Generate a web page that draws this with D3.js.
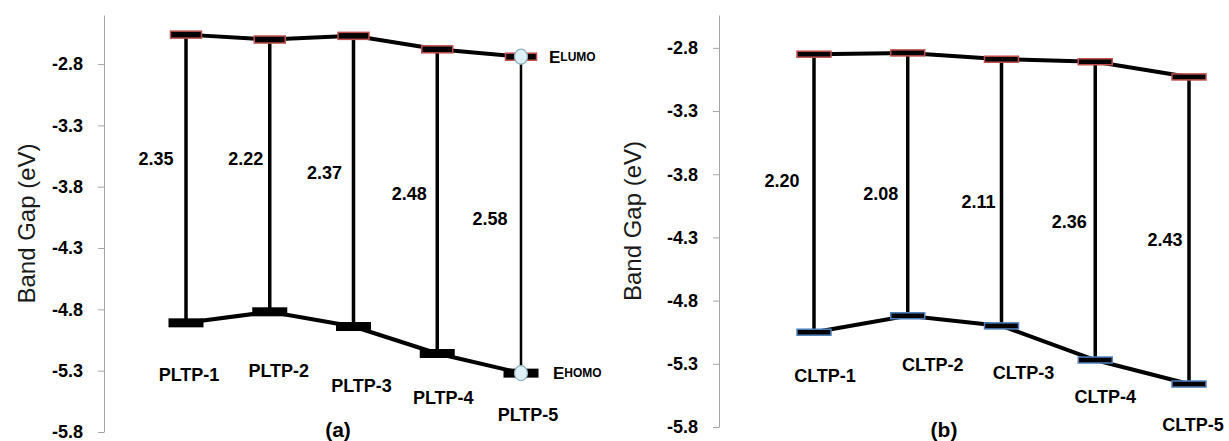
<!DOCTYPE html>
<html>
<head>
<meta charset="utf-8">
<script src="https://cdn.jsdelivr.net/npm/d3@7"></script>
<style>
  body { margin: 0; background: #fff; }
  svg { display: block; font-family: "Liberation Sans", Arial, sans-serif; }
</style>
</head>
<body>
<svg id="chart" width="1229" height="441"></svg>
<script>
// data (eV)
const pltpNames = ["PLTP-1", "PLTP-2", "PLTP-3", "PLTP-4", "PLTP-5"];
const pltpLumo = [-2.56, -2.60, -2.57, -2.68, -2.74];
const pltpHomo = [-4.91, -4.82, -4.94, -5.16, -5.32];
const pltpGap = ["2.35", "2.22", "2.37", "2.48", "2.58"];

const cltpNames = ["CLTP-1", "CLTP-2", "CLTP-3", "CLTP-4", "CLTP-5"];
const cltpLumo = [-2.85, -2.84, -2.89, -2.91, -3.03];
const cltpHomo = [-5.05, -4.92, -5.00, -5.27, -5.46];
const cltpGap = ["2.20", "2.08", "2.11", "2.36", "2.43"];

const yTicks = [-2.8, -3.3, -3.8, -4.3, -4.8, -5.3, -5.8];

const svg = d3.select("#chart");

// layout for each panel (label nudges are hand placed like in the original)
const panels = [
  {
    names: pltpNames, lumo: pltpLumo, homo: pltpHomo, gap: pltpGap, tag: "(a)",
    axisX: 104, yDomain: [-2.4, -5.8], yRange: [15, 432], xRange: [186, 521],
    titleX: 26, tagX: 338,
    homoW: 35, homoH: 9, homoStroke: null, lumoW: 31, lumoH: 7,
    catDx: [3, 9, 8, 6, 7], catDy: [52, 59, 59, 44, 42],
    gapDx: [-30, -24, -29, -28, -31], gapDy: [-20, -17, -8, -7, 4],
    circles: true
  },
  {
    names: cltpNames, lumo: cltpLumo, homo: cltpHomo, gap: cltpGap, tag: "(b)",
    axisX: 719, yDomain: [-2.54, -5.8], yRange: [15, 427], xRange: [814, 1189],
    titleX: 632, tagX: 944,
    homoW: 34, homoH: 6, homoStroke: "#4f81bd", lumoW: 34, lumoH: 6,
    catDx: [11, 25, 22, 10, 4], catDy: [44, 49, 47, 37, 41],
    gapDx: [-32, -27, -23, -26, -24], gapDy: [-12, 10, 9, 11, 10],
    circles: false
  }
];

panels.forEach(p => {
  const y = d3.scaleLinear().domain(p.yDomain).range(p.yRange);
  const x = d3.scalePoint().domain(p.names).range(p.xRange);
  const rows = p.names.map((n, i) => ({ name: n, lumo: p.lumo[i], homo: p.homo[i], gap: p.gap[i], i }));

  const g = svg.append("g");

  // y axis
  const axis = g.append("g")
    .attr("transform", `translate(${p.axisX},0)`)
    .call(d3.axisLeft(y).tickValues(yTicks).tickSize(6).tickSizeOuter(0)
      .tickPadding(15).tickFormat(d => d.toFixed(1)));
  axis.select(".domain").attr("stroke", "#a6a6a6");
  axis.selectAll(".tick line").attr("stroke", "#a6a6a6");
  axis.selectAll(".tick text")
    .attr("font-size", "18px").attr("font-weight", "bold").attr("fill", "#000")
    .attr("font-family", "'Liberation Sans', Arial, sans-serif");

  g.append("text")
    .attr("transform", `translate(${p.titleX},${(p.yRange[0] + p.yRange[1]) / 2}) rotate(-90)`)
    .attr("text-anchor", "middle")
    .attr("dominant-baseline", "central")
    .attr("font-size", "24px")
    .attr("fill", "#1a1a1a")
    .text("Band Gap (eV)");

  // connecting lines
  const lumoLine = d3.line().x(d => x(d.name)).y(d => y(d.lumo));
  const homoLine = d3.line().x(d => x(d.name)).y(d => y(d.homo));
  g.append("path").attr("d", lumoLine(rows))
    .attr("fill", "none").attr("stroke", "#000").attr("stroke-width", 4);
  g.append("path").attr("d", homoLine(rows))
    .attr("fill", "none").attr("stroke", "#000").attr("stroke-width", 4);

  // gap lines
  g.selectAll(".gapline").data(rows).enter().append("line")
    .attr("x1", d => x(d.name)).attr("x2", d => x(d.name))
    .attr("y1", d => y(d.lumo)).attr("y2", d => y(d.homo))
    .attr("stroke", "#000")
    .attr("stroke-width", d => (p.circles && d.i === rows.length - 1) ? 2.5 : 3.5);

  // level markers
  g.selectAll(".lumo").data(rows).enter().append("rect")
    .attr("x", d => x(d.name) - p.lumoW / 2).attr("y", d => y(d.lumo) - p.lumoH / 2)
    .attr("width", p.lumoW).attr("height", p.lumoH)
    .attr("fill", "#000").attr("stroke", "#c0504d").attr("stroke-width", 1.5);
  g.selectAll(".homo").data(rows).enter().append("rect")
    .attr("x", d => x(d.name) - p.homoW / 2).attr("y", d => y(d.homo) - p.homoH / 2)
    .attr("width", p.homoW).attr("height", p.homoH)
    .attr("fill", "#000")
    .attr("stroke", p.homoStroke || "none").attr("stroke-width", 1.5);

  if (p.circles) {
    const last = rows[rows.length - 1];
    [last.lumo, last.homo].forEach(v => {
      g.append("ellipse")
        .attr("cx", x(last.name)).attr("cy", y(v))
        .attr("rx", 6.5).attr("ry", 7.5)
        .attr("fill", "#dcf0f5").attr("stroke", "#8fb0bd").attr("stroke-width", 1.2);
    });
    const addE = (v, sub, dx) => {
      const t = g.append("text")
        .attr("x", x(last.name) + dx).attr("y", y(v))
        .attr("dominant-baseline", "central")
        .attr("font-weight", "bold").attr("fill", "#000");
      t.append("tspan").attr("font-size", "17px").text("E");
      t.append("tspan").attr("font-size", "12px").text(sub);
    };
    addE(last.lumo, "LUMO", 28);
    addE(last.homo, "HOMO", 32);
  }

  // category labels
  g.selectAll(".cat").data(rows).enter().append("text")
    .attr("x", d => x(d.name) + p.catDx[d.i])
    .attr("y", d => y(d.homo) + p.catDy[d.i])
    .attr("text-anchor", "middle").attr("dominant-baseline", "central")
    .attr("font-size", "18px").attr("font-weight", "bold").attr("fill", "#000")
    .text(d => d.name);

  // gap labels
  g.selectAll(".gaplabel").data(rows).enter().append("text")
    .attr("x", d => x(d.name) + p.gapDx[d.i])
    .attr("y", d => (y(d.lumo) + y(d.homo)) / 2 + p.gapDy[d.i])
    .attr("text-anchor", "middle").attr("dominant-baseline", "central")
    .attr("font-size", "18px").attr("font-weight", "bold").attr("fill", "#000")
    .text(d => d.gap);

  g.append("text")
    .attr("x", p.tagX).attr("y", 429)
    .attr("text-anchor", "middle").attr("dominant-baseline", "central")
    .attr("font-size", "21px").attr("font-weight", "bold").attr("fill", "#000")
    .text(p.tag);
});
</script>
</body>
</html>
